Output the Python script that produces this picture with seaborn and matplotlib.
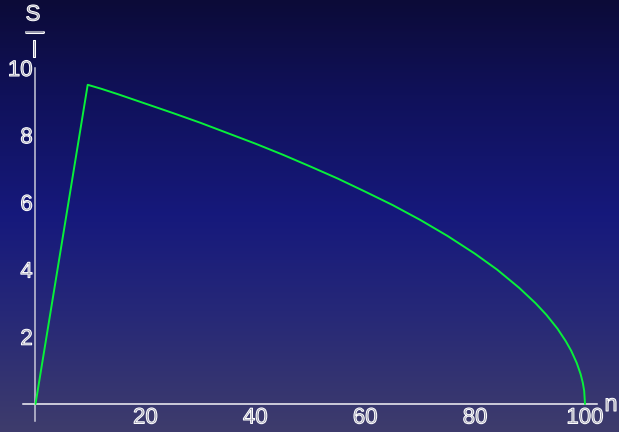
import numpy as np
import matplotlib
matplotlib.use("Agg")
import matplotlib.pyplot as plt
import matplotlib.patheffects as pe
from matplotlib.colors import LinearSegmentedColormap
from matplotlib.lines import Line2D
import seaborn as sns

# values
n_vals = [0, 9.5, 12, 15, 20, 25, 30, 35, 40, 45, 50, 55, 60, 65, 70, 75,
          80, 84, 88, 91, 93, 95, 96.5, 97.5, 98.5, 99.2, 99.6, 99.85, 100]
s_vals = [0, 9.5, 9.38, 9.22, 8.94, 8.66, 8.37, 8.06, 7.75, 7.42, 7.07, 6.71,
          6.32, 5.92, 5.48, 5.0, 4.47, 4.0, 3.46, 3.0, 2.65, 2.24, 1.87, 1.58,
          1.22, 0.89, 0.63, 0.39, 0]

x_major = [20, 40, 60, 80, 100]
x_minor = np.arange(5, 101, 5)
y_major = [2, 4, 6, 8, 10]
y_minor = np.arange(0.5, 10.01, 0.5)

bg_stops = [(0.0, "#0c0b38"), (0.22, "#10115a"), (0.5, "#16197c"),
            (0.72, "#262878"), (1.0, "#3e3c6c")]

TEXT_FILL = "#9696aa"

W, H = 619, 432
sns.set_style("white")
plt.rcParams["font.family"] = ["Liberation Sans", "DejaVu Sans"]

fig = plt.figure(figsize=(W / 100, H / 100), dpi=100)
ax = fig.add_axes([0, 0, 1, 1])

# background gradient, top to bottom
cmap = LinearSegmentedColormap.from_list("bg", bg_stops)
grad = np.linspace(0, 1, 256).reshape(-1, 1)
ax.imshow(grad, cmap=cmap, extent=(0, 1, 0, 1), transform=ax.transAxes,
          aspect="auto", zorder=0, interpolation="bicubic")

sns.lineplot(x=n_vals, y=s_vals, ax=ax, color="#08f03a", linewidth=1.4,
             zorder=3)

# pixel mapping: origin at (35.5, 404), 5.495 px / n unit, 33.6 px / S unit
ax.set_xlim(-35.5 / 5.495, (W - 35.5) / 5.495)
ax.set_ylim((404 - H) / 33.6, 404 / 33.6)

for side in ["top", "right"]:
    ax.spines[side].set_visible(False)
ax.spines["left"].set_position(("data", 0))
ax.spines["bottom"].set_position(("data", 0))
ax.spines["bottom"].set_bounds(-2.3, 102.1)
ax.spines["left"].set_bounds(-0.52, 10.0)
ax.spines["bottom"].set_color("#f4f4f8")
ax.spines["left"].set_color("#c8c8d8")
ax.spines["bottom"].set_linewidth(1.1)
ax.spines["left"].set_linewidth(1.1)

ax.set_xticks(x_major)
ax.set_xticks(x_minor, minor=True)
ax.set_yticks(y_major)
ax.set_yticks(y_minor, minor=True)
ax.set_xticklabels([str(v) for v in x_major])
ax.set_yticklabels([str(v) for v in y_major])
ax.tick_params(which="both", direction="in", color="#9090a8", width=0.8,
               labelsize=16, labelcolor=TEXT_FILL)
ax.tick_params(which="major", length=4)
ax.tick_params(which="minor", length=2.5)
ax.tick_params(axis="x", pad=2.5)
ax.tick_params(axis="y", pad=2)
ax.grid(False)

# hollow-looking text: grey fill with a thin white edge
outline = [pe.Stroke(linewidth=0.75, foreground="white")]
for lab in ax.get_xticklabels() + ax.get_yticklabels():
    lab.set_path_effects(outline)


def fx(px):
    return px / W


def fy(py):
    return 1 - py / H


# axis labels: n at the end of the x axis, S/l stacked at the top of y axis
fig.text(fx(611), fy(405), "n", ha="center", va="center", fontsize=17,
         color=TEXT_FILL, path_effects=outline)
fig.text(fx(33), fy(15), "S", ha="center", va="center", fontsize=16,
         color=TEXT_FILL, path_effects=outline)
fig.text(fx(34), fy(51), "l", ha="center", va="center", fontsize=17,
         color=TEXT_FILL, path_effects=outline)
bar = Line2D([fx(26), fx(43)], [fy(32), fy(32)], transform=fig.transFigure,
             color=TEXT_FILL, linewidth=1.4,
             path_effects=[pe.Stroke(linewidth=2.2, foreground="white"),
                           pe.Normal()])
fig.add_artist(bar)

fig.savefig("out.png", dpi=100)
